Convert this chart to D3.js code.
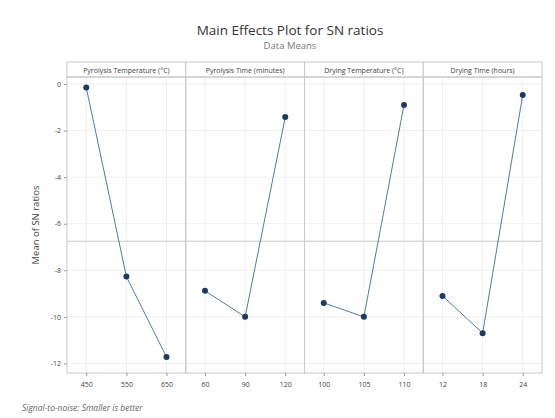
<!DOCTYPE html>
<meta charset="utf-8">
<script src="https://d3js.org/d3.v7.min.js"></script>
<style>
  body { margin: 0; background: #fff; }
  text { font-family: "Open Sans", "Noto Sans", sans-serif; }
</style>
<div id="chart"></div>
<script>
// factor names, levels and SN ratio means
var factors = ["Pyrolysis Temperature (°C)", "Pyrolysis Time (minutes)", "Drying Temperature (°C)", "Drying Time (hours)"];
var levels = [["450", "550", "650"], ["60", "90", "120"], ["100", "105", "110"], ["12", "18", "24"]];
var snMeans = [[-0.15, -8.27, -11.72], [-8.88, -10.0, -1.42], [-9.4, -10.0, -0.9], [-9.1, -10.7, -0.47]];
var yTicks = [0, -2, -4, -6, -8, -10, -12];

var W = 555, H = 418;
var margin = {top: 62, right: 13, bottom: 45, left: 67},
    stripH = 15;

var svg = d3.select("#chart").append("svg")
  .attr("width", W).attr("height", H);

var plotTop = margin.top + stripH,
    plotBottom = H - margin.bottom,
    plotRight = W - margin.right;

var grand = d3.mean(snMeans.flat());

var y = d3.scaleLinear()
  .domain([-12.41, 0.3])
  .range([plotBottom, plotTop]);

var panel = d3.scaleBand()
  .domain(factors)
  .range([margin.left, plotRight]);

// title
svg.append("text")
  .attr("x", 290).attr("y", 35)
  .attr("text-anchor", "middle")
  .style("font-size", "13.5px").style("fill", "#333")
  .text("Main Effects Plot for SN ratios");
svg.append("text")
  .attr("x", 290).attr("y", 49)
  .attr("text-anchor", "middle")
  .style("font-size", "9.5px").style("fill", "#777")
  .text("Data Means");

// y label
svg.append("text")
  .attr("transform", "translate(39," + (plotTop + plotBottom) / 2 + ") rotate(-90)")
  .attr("text-anchor", "middle")
  .style("font-size", "9.5px").style("fill", "#444")
  .text("Mean of SN ratios");

// y axis ticks
var yAxis = svg.append("g")
  .attr("transform", "translate(" + margin.left + ",0)")
  .call(d3.axisLeft(y).tickValues(yTicks).tickSize(3).tickFormat(d3.format("d")));
yAxis.select(".domain").remove();
yAxis.selectAll("line").attr("stroke", "#999");
yAxis.selectAll("text").style("font-size", "7px").style("fill", "#444")
  .text(function(d) { return d === 0 ? "0" : "-" + Math.abs(d); });

factors.forEach(function(f, i) {
  var x0 = panel(f), w = panel.bandwidth();
  var g = svg.append("g");

  var x = d3.scalePoint()
    .domain(levels[i])
    .range([x0, x0 + w])
    .padding(0.48);

  // horizontal grid
  g.selectAll(".hg").data(yTicks).enter().append("line")
    .attr("x1", x0).attr("x2", x0 + w)
    .attr("y1", function(d) { return y(d); }).attr("y2", function(d) { return y(d); })
    .attr("stroke", "#f0f0f0");

  // vertical grid
  g.selectAll(".vg").data(levels[i]).enter().append("line")
    .attr("x1", function(d) { return x(d); }).attr("x2", function(d) { return x(d); })
    .attr("y1", plotTop).attr("y2", plotBottom)
    .attr("stroke", "#f0f0f0");

  // grand mean reference
  g.append("line")
    .attr("x1", x0).attr("x2", x0 + w)
    .attr("y1", y(grand)).attr("y2", y(grand))
    .attr("stroke", "#c8c8c8");

  // strip
  g.append("rect")
    .attr("x", x0).attr("y", margin.top)
    .attr("width", w).attr("height", stripH)
    .attr("fill", "#fff").attr("stroke", "#c8c8c8");
  g.append("text")
    .attr("x", x0 + w / 2).attr("y", margin.top + 10.5)
    .attr("text-anchor", "middle")
    .style("font-size", "7px").style("fill", "#444")
    .text(f);

  // panel frame
  g.append("rect")
    .attr("x", x0).attr("y", plotTop)
    .attr("width", w).attr("height", plotBottom - plotTop)
    .attr("fill", "none").attr("stroke", "#c8c8c8");

  // x axis
  var xa = g.append("g")
    .attr("transform", "translate(0," + plotBottom + ")")
    .call(d3.axisBottom(x).tickSize(3));
  xa.select(".domain").remove();
  xa.selectAll("line").attr("stroke", "#999");
  xa.selectAll("text").style("font-size", "7px").style("fill", "#444").attr("dy", "1.2em");

  // line and points
  var pts = levels[i].map(function(l, j) { return [l, snMeans[i][j]]; });
  g.append("path")
    .datum(pts)
    .attr("fill", "none")
    .attr("stroke", "#5577aa")
    .attr("stroke-width", 1)
    .attr("d", d3.line().x(function(d) { return x(d[0]); }).y(function(d) { return y(d[1]); }));
  g.selectAll("circle").data(pts).enter().append("circle")
    .attr("cx", function(d) { return x(d[0]); })
    .attr("cy", function(d) { return y(d[1]); })
    .attr("r", 3)
    .attr("fill", "#1d3a66");
});

// footnote
svg.append("text")
  .attr("x", 22).attr("y", 411)
  .style("font-size", "8.5px").style("font-style", "italic").style("fill", "#666")
  .text("Signal-to-noise: Smaller is better");
</script>
